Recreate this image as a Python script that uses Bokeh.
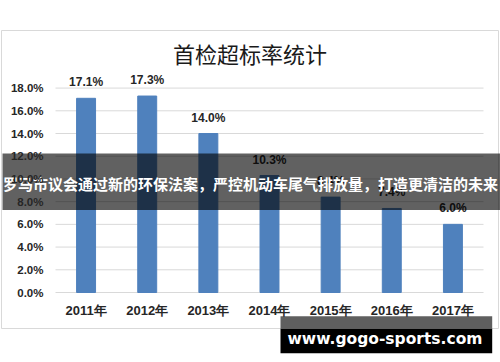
from bokeh.plotting import figure
from bokeh.models import Range1d, FixedTicker, NumeralTickFormatter, LinearAxis
from bokeh.core.properties import value
from bokeh.embed import file_html
from bokeh.resources import INLINE

categories = ["2011年", "2012年", "2013年", "2014年", "2015年", "2016年", "2017年"]
rates = [0.171, 0.173, 0.140, 0.103, 0.084, 0.074, 0.060]
rate_labels = ["17.1%", "17.3%", "14.0%", "10.3%", "8.4%", "7.4%", "6.0%"]
y_ticks = [0.0, 0.02, 0.04, 0.06, 0.08, 0.10, 0.12, 0.14, 0.16, 0.18]
title_text = "首检超标率统计"
banner_text = "罗马市议会通过新的环保法案，严控机动车尾气排放量，打造更清洁的未来"
watermark_text = "www.gogo-sports.com"

W, H = 500, 362
# pixel layout of the plotting area (first category centre, category step, zero line, px per unit)
X0, DX, Y0, DY = 85.57, 61.143, 292.0, 1135.6


def dx(px):
    return (px - X0) / DX


def dy(py):
    return (Y0 - py) / DY


positions = list(range(len(categories)))

p = figure(width=W, height=H, output_backend="svg", toolbar_location=None,
           x_range=Range1d(dx(0), dx(W)), y_range=Range1d(dy(H), dy(0)),
           x_axis_type=None, y_axis_type=None,
           min_border_left=0, min_border_right=0, min_border_top=0, min_border_bottom=0)
p.outline_line_color = None
p.background_fill_color = "white"
p.border_fill_color = "white"
p.xgrid.visible = False
p.ygrid.visible = False

# chart border
p.quad(left=[dx(1)], right=[dx(498)], top=[dy(30)], bottom=[dy(328)],
       fill_color=None, line_color="#d9d9d9", line_width=1)

# horizontal gridlines
p.segment(x0=[dx(55)] * len(y_ticks), x1=[dx(483)] * len(y_ticks), y0=y_ticks, y1=y_ticks,
          line_color="#d9d9d9", line_width=1)

# axes placed inside the frame
yaxis = LinearAxis(ticker=FixedTicker(ticks=y_ticks), formatter=NumeralTickFormatter(format="0.0%"),
                   fixed_location=dx(55))
xaxis = LinearAxis(ticker=FixedTicker(ticks=positions),
                   major_label_overrides={i: c for i, c in zip(positions, categories)},
                   fixed_location=0)
for ax in (xaxis, yaxis):
    ax.axis_line_color = None
    ax.major_tick_line_color = None
    ax.minor_tick_line_color = None
    ax.major_label_text_font = "Liberation Sans"
    ax.major_label_text_font_style = "bold"
    ax.major_label_text_color = "#262626"
yaxis.major_label_text_font_size = "11.5px"
yaxis.major_label_standoff = 6
xaxis.major_label_text_font_size = "13px"
xaxis.major_label_standoff = 4
p.add_layout(yaxis, "left")
p.add_layout(xaxis, "below")

# bars and their value labels
p.vbar(x=positions, top=rates, width=0.31, fill_color="#4f81bd", line_color="#4f81bd")
p.text(x=positions, y=rates, text=rate_labels, text_align="center",
       text_baseline="alphabetic", y_offset=-16,
       text_font=value("Liberation Sans"), text_font_style="bold",
       text_font_size="12px", text_color="#262626")

# title
p.text(x=[dx(249.5)], y=[dy(52.5)], text=[title_text], text_align="center",
       text_baseline="middle", text_font=value("Noto Sans CJK SC"),
       text_font_size="22px", text_color="#1a1a1a")

# banner overlay
p.quad(left=[dx(2)], right=[dx(W)], top=[dy(153)], bottom=[dy(209.5)],
       fill_color="black", fill_alpha=0.62, line_color=None)
p.text(x=[dx(250)], y=[dy(182.5)], text=[banner_text], text_align="center",
       text_baseline="middle", text_font=value("Noto Sans CJK SC"),
       text_font_style="bold", text_font_size="15px", text_color="white")

# watermark
p.quad(left=[dx(280)], right=[dx(491.7)], top=[dy(315.7)], bottom=[dy(328.3)],
       fill_color="#5f5f5f", line_color=None)
p.quad(left=[dx(280)], right=[dx(491.7)], top=[dy(328.3)], bottom=[dy(352.7)],
       fill_color="black", line_color=None)
p.text(x=[dx(384.5)], y=[dy(338)], text=[watermark_text], text_align="center",
       text_baseline="middle", text_font=value("DejaVu Sans"),
       text_font_style="bold", text_font_size="15.5px", text_color="white")

open("out.html", "w").write(file_html(p, INLINE))
